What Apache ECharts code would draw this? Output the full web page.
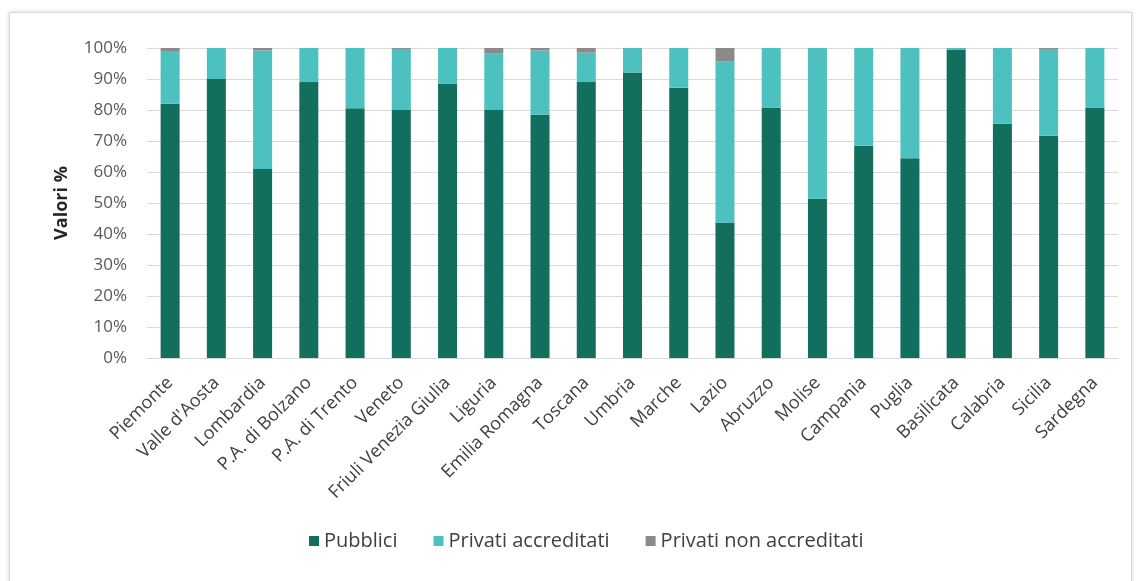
<!DOCTYPE html>
<html>
<head>
<meta charset="utf-8">
<script src="https://cdn.jsdelivr.net/npm/echarts@6/dist/echarts.min.js"></script>
<style>
  html, body { margin: 0; padding: 0; background: #ffffff; }
  #frame { position: absolute; left: 9px; top: 12px; width: 1121px; height: 600px;
           border: 1px solid #d6d6d6; box-shadow: 0 0 4px rgba(0,0,0,0.18); background:#fff; }
  #chart { position: absolute; left: 0; top: 0; width: 1141px; height: 581px; }
</style>
</head>
<body>
<div id="frame"></div>
<div id="chart"></div>
<script>
const categories = ["Piemonte", "Valle d'Aosta", "Lombardia", "P.A. di Bolzano", "P.A. di Trento",
  "Veneto", "Friuli Venezia Giulia", "Liguria", "Emilia Romagna", "Toscana", "Umbria", "Marche",
  "Lazio", "Abruzzo", "Molise", "Campania", "Puglia", "Basilicata", "Calabria", "Sicilia", "Sardegna"];
const pubblici = [82, 90, 61, 89, 80.6, 80, 88.4, 80, 78.5, 89, 92.1, 87.2, 43.7, 80.8, 51.4, 68.5, 64.4, 99.5, 75.6, 71.7, 80.8];
const privatiAccreditati = [17, 10, 38.2, 11, 19.4, 19.7, 11.6, 18.2, 20.7, 9.5, 7.9, 12.8, 52, 19.2, 48.6, 31.5, 35.6, 0.5, 24.4, 28, 19.2];
const privatiNonAccreditati = [1, 0, 0.8, 0, 0, 0.3, 0, 1.8, 0.8, 1.5, 0, 0, 4.3, 0, 0, 0, 0, 0, 0, 0.3, 0];
const seriesNames = ["Pubblici", "Privati accreditati", "Privati non accreditati"];
const yTicks = [0, 10, 20, 30, 40, 50, 60, 70, 80, 90, 100];

const colors = ["#126f5d", "#4dc1bf", "#8a8a8a"];
const chart = echarts.init(document.getElementById('chart'), null, { renderer: 'canvas' });
const fontFam = "'Open Sans', 'Noto Sans', sans-serif";
const mk = (name, data, i) => ({
  name, type: 'bar', stack: 'tot', data, barWidth: 19,
  itemStyle: { color: colors[i] }, emphasis: { disabled: true }
});
chart.setOption({
  animation: false,
  backgroundColor: 'transparent',
  color: colors,
  textStyle: { fontFamily: fontFam },
  grid: { left: 147, right: 23, top: 48, bottom: 223, containLabel: false },
  xAxis: {
    type: 'category', data: categories,
    axisLine: { lineStyle: { color: '#d9d9d9', width: 1 } },
    axisTick: { show: false },
    axisLabel: { rotate: 45, interval: 0, color: '#404040', fontSize: 18, margin: 22, fontFamily: fontFam }
  },
  yAxis: {
    type: 'value', min: 0, max: 100, interval: 10,
    name: 'Valori %', nameLocation: 'middle', nameGap: 76, nameRotate: 90,
    nameTextStyle: { fontSize: 18, fontWeight: 'bold', color: '#262626', fontFamily: fontFam },
    axisLine: { show: false }, axisTick: { show: false },
    axisLabel: { color: '#595959', fontSize: 17, margin: 20, fontFamily: fontFam,
      formatter: v => (yTicks.includes(v) ? v + '%' : '') },
    splitLine: { lineStyle: { color: '#d9d9d9', width: 1 } }
  },
  legend: {
    data: seriesNames, bottom: 25, left: 304, itemWidth: 10, itemHeight: 10, itemGap: 36,
    icon: 'rect', textStyle: { fontSize: 20, color: '#404040', fontFamily: fontFam }
  },
  series: [
    mk(seriesNames[0], pubblici, 0),
    mk(seriesNames[1], privatiAccreditati, 1),
    mk(seriesNames[2], privatiNonAccreditati, 2)
  ]
});
</script>
</body>
</html>
